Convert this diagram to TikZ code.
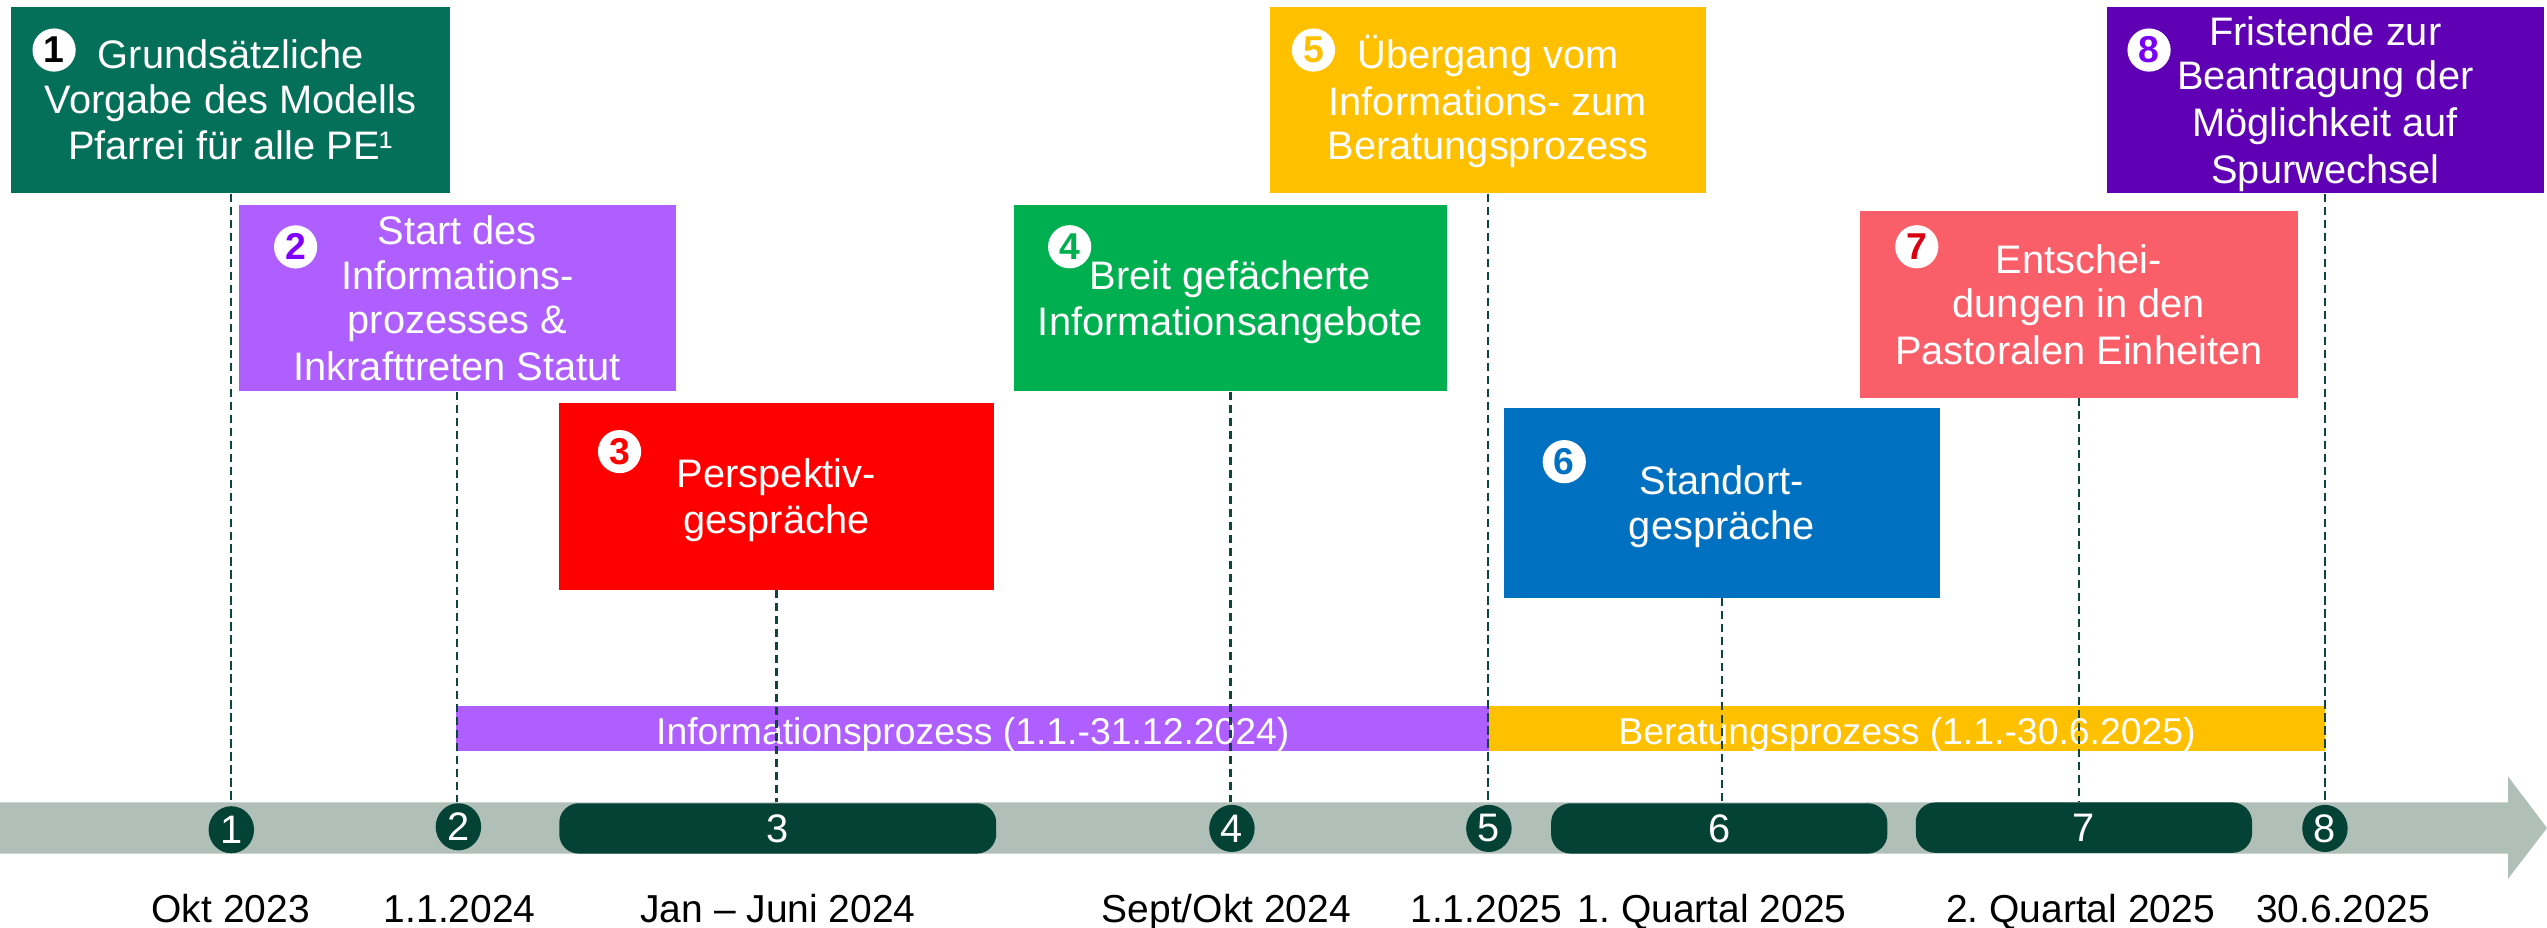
\documentclass[tikz,border=0pt]{standalone}
\usepackage{fontspec}
\setmainfont{Liberation Sans}
\usetikzlibrary{shapes.geometric}
\definecolor{cbA}{HTML}{04705A}
\definecolor{cbB}{HTML}{AF5FFF}
\definecolor{cbC}{HTML}{FF0000}
\definecolor{cbD}{HTML}{00B050}
\definecolor{cbE}{HTML}{FFC000}
\definecolor{cbF}{HTML}{0070C0}
\definecolor{cbG}{HTML}{FA5F69}
\definecolor{cbH}{HTML}{5F00B5}
\definecolor{dgB}{HTML}{7F00FF}
\definecolor{dgG}{HTML}{D80010}
\definecolor{dgH}{HTML}{7A00F5}
\definecolor{tlgray}{HTML}{B1BFB9}
\definecolor{tldark}{HTML}{054236}
\definecolor{dashc}{HTML}{0C463C}
\newcommand\mystrut{\rule[-5pt]{0pt}{27.6pt}}
\frenchspacing
\begin{document}
\begin{tikzpicture}[x=1pt,y=-1pt,
  box/.style={rectangle, inner sep=0pt, align=center, text=white,
    font=\fontsize{24.5}{27.6}\selectfont},
  badge/.style={circle, fill=white, inner sep=0pt, minimum size=26.6pt,
    font=\fontsize{23}{23}\bfseries\selectfont},
  dline/.style={draw=dashc, line width=1.35pt, dash pattern=on 5pt off 3pt},
  tlmark/.style={ellipse, fill=tldark, text=white, inner sep=0pt,
    minimum width=28pt, minimum height=29pt, font=\fontsize{24.5}{24.5}\selectfont},
  tlbar/.style={rectangle, rounded corners=12pt, fill=tldark, text=white, inner sep=0pt,
    minimum height=31pt, font=\fontsize{24.5}{24.5}\selectfont},
  pbar/.style={rectangle, inner sep=0pt, text=white, minimum height=27.5pt,
    text height=20.4pt, text depth=0pt, font=\fontsize{23}{23}\selectfont},
  datelbl/.style={anchor=base, inner sep=0pt, text=black, font=\fontsize{24}{24}\selectfont}
]
\useasboundingbox (0,0) rectangle (1568,571);

% event boxes
\node[box, fill=cbA, minimum width=270pt, minimum height=115pt] (b1) at (142,61.5)
  {\mystrut Grundsätzliche\\\mystrut Vorgabe des Modells\\\mystrut Pfarrei für alle PE¹};
\node[box, fill=cbB, minimum width=269pt, minimum height=115pt] (b2) at (281.5,183.5)
  {\mystrut Start des\\\mystrut Informations-\\\mystrut prozesses \&\\\mystrut Inkrafttreten Statut};
\node[box, fill=cbC, minimum width=268pt, minimum height=115pt] (b3) at (478,305.5)
  {\mystrut Perspektiv-\\\mystrut gespräche};
\node[box, fill=cbD, minimum width=267pt, minimum height=115pt] (b4) at (757.5,183.5)
  {\mystrut Breit gefächerte\\\mystrut Informationsangebote};
\node[box, fill=cbE, minimum width=268pt, minimum height=115pt] (b5) at (916,61.5)
  {\mystrut Übergang vom\\\mystrut Informations- zum\\\mystrut Beratungsprozess};
\node[box, fill=cbF, minimum width=268pt, minimum height=116.5pt] (b6) at (1060,309.7)
  {\mystrut Standort-\\\mystrut gespräche};
\node[box, fill=cbG, minimum width=270pt, minimum height=115pt] (b7) at (1279.8,187.5)
  {\mystrut Entschei-\\\mystrut dungen in den\\\mystrut Pastoralen Einheiten};
\node[box, fill=cbH, minimum width=269pt, minimum height=115pt] (b8) at (1431.5,61.5)
  {\mystrut Fristende zur\\\mystrut Beantragung der\\\mystrut Möglichkeit auf\\\mystrut Spurwechsel};

% number badges
\node[badge, text=black] (n1) at (33.3,30.8) {1};
\node[badge, text=dgB] (n2) at (182,152) {2};
\node[badge, text=cbC] (n3) at (381.4,278) {3};
\node[badge, text=cbD] (n4) at (658.5,151.9) {4};
\node[badge, text=cbE] (n5) at (808.6,30.8) {5};
\node[badge, text=cbF] (n6) at (963,284.2) {6};
\node[badge, text=dgG] (n7) at (1180,151.9) {7};
\node[badge, text=dgH] (n8) at (1323,30.8) {8};

% process bars
\node[pbar, fill=cbB, minimum width=636.3pt] (ip) at (598.9,448.4)
  {Informationsprozess (1.1.-31.12.2024)};
\node[pbar, fill=cbE, minimum width=514.6pt] (bp) at (1174,448.4)
  {Beratungsprozess (1.1.-30.6.2025)};

% timeline arrow
\fill[tlgray] (0,494) -- (1544,494) -- (1544,478) -- (1568,509.7) -- (1544,541)
  -- (1544,525.5) -- (0,525.5) -- cycle;
\coordinate (tltop) at (0,494);

% timeline markers
\node[tlmark] (m1) at (142.4,510.8) {1};
\node[tlmark] (m2) at (282.2,509) {2};
\node[tlbar, minimum width=269pt] (m3) at (478.8,510) {3};
\node[tlmark] (m4) at (758.4,510) {4};
\node[tlmark] (m5) at (916.6,510) {5};
\node[tlbar, minimum width=207pt] (m6) at (1058.4,510) {6};
\node[tlbar, minimum width=207pt] (m7) at (1282.9,509.5) {7};
\node[tlmark] (m8) at (1431.3,510) {8};

% dashed connectors
\foreach \i in {1,...,8} {
  \draw[dline] (b\i.south) -- (b\i.south |- tltop);
}

% date labels
\node[datelbl] (d1) at (142,568) {Okt 2023};
\node[datelbl] (d2) at (283,568) {1.1.2024};
\node[datelbl] (d3) at (479,568) {Jan – Juni 2024};
\node[datelbl] (d4) at (755,568) {Sept/Okt 2024};
\node[datelbl] (d5) at (915,568) {1.1.2025};
\node[datelbl] (d6) at (1054,568) {1. Quartal 2025};
\node[datelbl] (d7) at (1280.8,568) {2. Quartal 2025};
\node[datelbl] (d8) at (1442.4,568) {30.6.2025};
\end{tikzpicture}
\end{document}
